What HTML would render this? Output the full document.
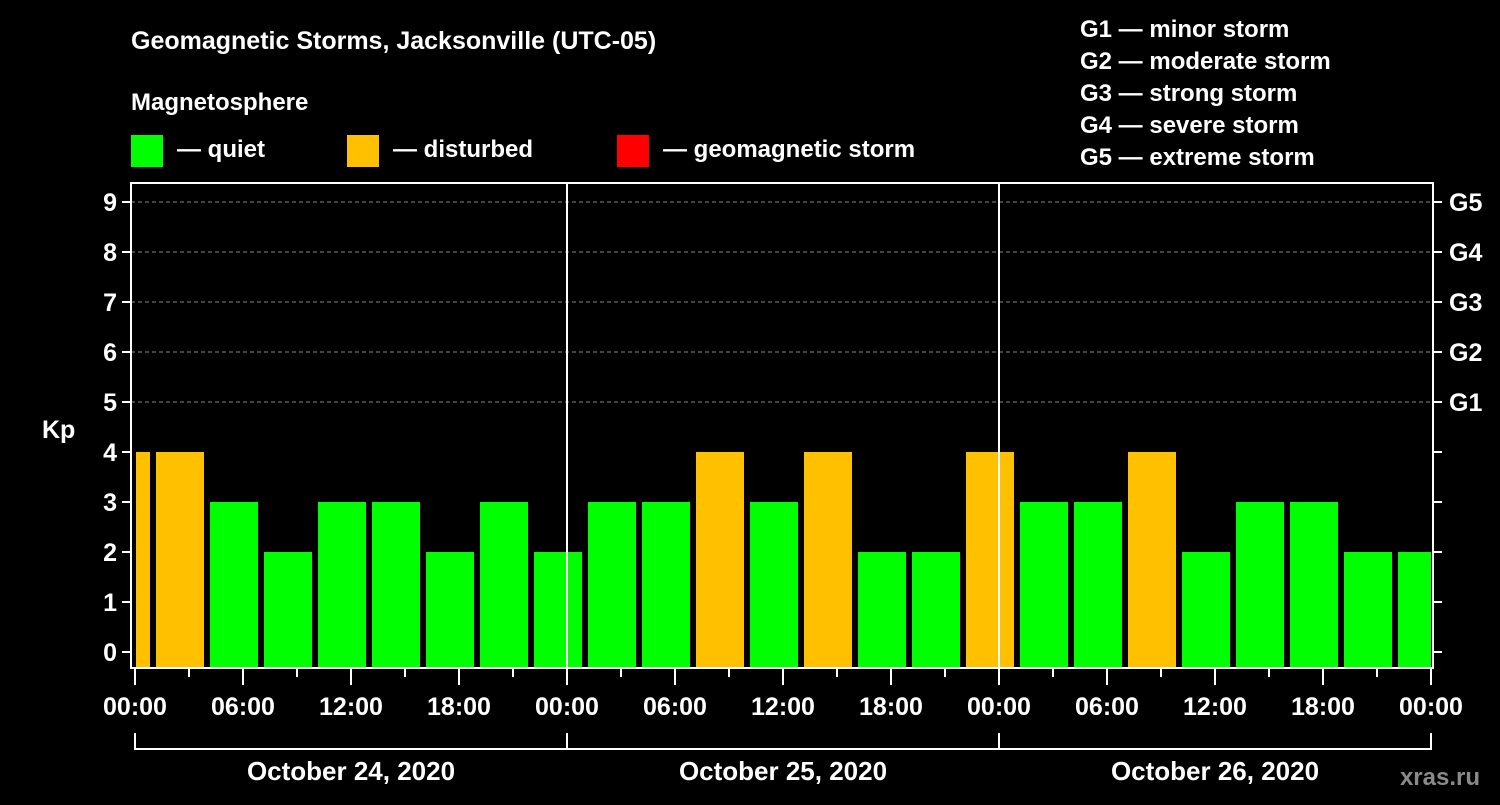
<!DOCTYPE html>
<html><head><meta charset="utf-8"><style>
body{margin:0;background:#000;width:1500px;height:800px;overflow:hidden}
svg text{font-family:"Liberation Sans",Arial,sans-serif;font-weight:bold;fill:#fff}
</style></head><body>
<svg id="c" width="1500" height="800" xmlns="http://www.w3.org/2000/svg">
<text x="131" y="49" font-size="25">Geomagnetic Storms, Jacksonville (UTC-05)</text>
<text x="131" y="110" font-size="24">Magnetosphere</text>
<g><rect x="131" y="135" width="32" height="32" fill="#00ff00"/><text x="177" y="157" font-size="24">— quiet</text></g>
<g><rect x="347" y="135" width="32" height="32" fill="#ffc000"/><text x="393" y="157" font-size="24">— disturbed</text></g>
<g><rect x="617" y="135" width="32" height="32" fill="#ff0000"/><text x="663" y="157" font-size="24">— geomagnetic storm</text></g>
<g font-size="24">
<text x="1080" y="37">G1 — minor storm</text><text x="1080" y="69">G2 — moderate storm</text><text x="1080" y="101">G3 — strong storm</text><text x="1080" y="133">G4 — severe storm</text><text x="1080" y="165">G5 — extreme storm</text></g>
<text x="42" y="438" font-size="25">Kp</text>
<text x="1480" y="785" font-size="24" fill="#888" style="fill:#8a8a8a" text-anchor="end">xras.ru</text>
<g id="grid"></g><g id="bars"></g><g id="axes"></g>
</svg>
<script>
const kpValues=[4,4,3,2,3,3,2,3,2,3,3,4,3,4,2,2,4,3,3,4,2,3,3,2,2];
const binStartHours=[-2,1,4,7,10,13,16,19,22,25,28,31,34,37,40,43,46,49,52,55,58,61,64,67,70];
const yTicks=[0,1,2,3,4,5,6,7,8,9];
const gLabels=["G1","G2","G3","G4","G5"];
const xTickLabels=["00:00","06:00","12:00","18:00","00:00","06:00","12:00","18:00","00:00","06:00","12:00","18:00","00:00"];
const dayLabels=["October 24, 2020","October 25, 2020","October 26, 2020"];
const NS="http://www.w3.org/2000/svg";
const X0=135,PXH=18,TOTAL=72,L=131,R=1433,T=183,B=668;
const xs=h=>X0+h*PXH, ys=v=>652-v*50;
function mk(p,tag,at){const e=document.createElementNS(NS,tag);for(const k in at)e.setAttribute(k,at[k]);p.appendChild(e);return e;}
const grid=document.getElementById('grid'),bars=document.getElementById('bars'),axes=document.getElementById('axes');
[5,6,7,8,9].forEach(v=>{const l=mk(grid,'line',{x1:L,x2:R,y1:ys(v),y2:ys(v),stroke:'#888','stroke-dasharray':'4,3','stroke-width':1});

});
kpValues.forEach((v,i)=>{const s=Math.max(binStartHours[i],0),e=Math.min(binStartHours[i]+3,TOTAL);
const x1=xs(s)+(binStartHours[i]<0?1:3),x2=xs(e)-(binStartHours[i]+3>TOTAL?0:3);
const r=mk(bars,'rect',{x:x1,y:ys(v),width:x2-x1,height:B-ys(v),fill:v>=5?'#ff0000':v>=4?'#ffc000':'#00ff00'});

});
mk(axes,'rect',{x:L,y:T,width:R-L,height:B-T,fill:'none',stroke:'#fff','stroke-width':2});
[1,2].forEach(d=>{const l=mk(axes,'line',{x1:xs(d*24),x2:xs(d*24),y1:T,y2:B,stroke:'#fff','stroke-width':2});

});
yTicks.forEach(v=>{mk(axes,'line',{x1:L-9,x2:L,y1:ys(v),y2:ys(v),stroke:'#fff','stroke-width':2});
mk(axes,'line',{x1:R,x2:R+9,y1:ys(v),y2:ys(v),stroke:'#fff','stroke-width':2});
const t=mk(axes,'text',{x:L-14,y:ys(v)+9,'font-size':25,'text-anchor':'end'});t.textContent=v;

});
gLabels.forEach((g,i)=>{const t=mk(axes,'text',{x:1449,y:ys(5+i)+9,'font-size':25});t.textContent=g;

});
for(let h=0;h<=TOTAL;h+=3){const big=h%6==0;mk(axes,'line',{x1:xs(h),x2:xs(h),y1:B+1,y2:B+(big?17:9),stroke:'#fff','stroke-width':2});}
xTickLabels.forEach((s,i)=>{const t=mk(axes,'text',{x:xs(i*6),y:715,'font-size':25,'text-anchor':'middle'});t.textContent=s;

});
mk(axes,'line',{x1:xs(0),x2:xs(TOTAL),y1:749,y2:749,stroke:'#fff','stroke-width':2});
[0,1,2,3].forEach(d=>mk(axes,'line',{x1:xs(d*24),x2:xs(d*24),y1:733,y2:750,stroke:'#fff','stroke-width':2}));
dayLabels.forEach((s,i)=>{const t=mk(axes,'text',{x:xs(i*24+12),y:780,'font-size':26,'text-anchor':'middle'});t.textContent=s;

});
</script>
</body></html>
